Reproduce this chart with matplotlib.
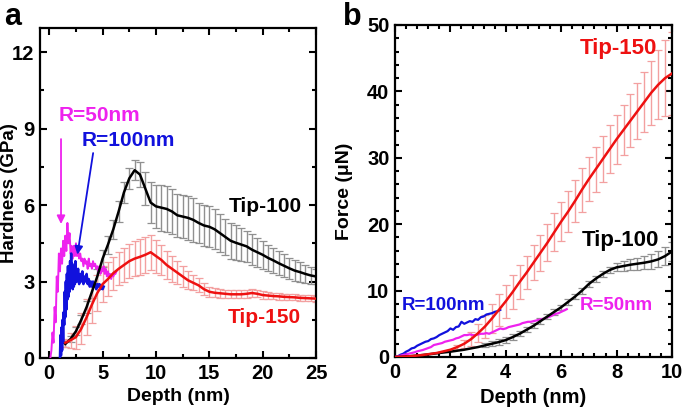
import numpy as np
import matplotlib
matplotlib.use("Agg")
import matplotlib.pyplot as plt
from matplotlib.ticker import MultipleLocator

plt.rcParams['font.family'] = ['Liberation Sans', 'DejaVu Sans']
plt.rcParams['font.weight'] = 'bold'
plt.rcParams['axes.labelweight'] = 'bold'

# ---------------- Panel a data: hardness vs depth ----------------
depth_a = np.arange(1.5, 25.01, 0.5)
hard_tip100 = [0.55, 0.75, 1.05, 1.5, 2.0, 2.6, 3.2, 3.9, 4.45, 5.05, 5.75, 6.5, 7.05, 7.37,
               7.2, 6.65, 6.1, 5.95, 5.9, 5.85, 5.75, 5.6, 5.55, 5.5, 5.42, 5.3, 5.2, 5.15,
               5.05, 4.9, 4.75, 4.6, 4.52, 4.45, 4.38, 4.25, 4.15, 4.05, 3.93, 3.83, 3.72,
               3.62, 3.52, 3.43, 3.37, 3.3, 3.24, 3.2]
err_tip100 = [0.1, 0.12, 0.15, 0.18, 0.22, 0.25, 0.3, 0.32, 0.35, 0.38, 0.4, 0.4, 0.4, 0.4,
              0.5, 0.65, 0.8, 0.85, 0.9, 0.9, 0.9, 0.85, 0.85, 0.85, 0.85, 0.8, 0.8, 0.8,
              0.78, 0.75, 0.72, 0.7, 0.68, 0.65, 0.62, 0.6, 0.57, 0.55, 0.52, 0.5, 0.47,
              0.45, 0.42, 0.4, 0.38, 0.35, 0.33, 0.3]
hard_tip150 = [0.6, 0.7, 0.82, 1.15, 1.6, 2.1, 2.55, 2.9, 3.1, 3.33, 3.5, 3.65, 3.8, 3.9,
               3.97, 4.05, 4.15, 4.0, 3.85, 3.65, 3.5, 3.35, 3.2, 3.05, 2.95, 2.85, 2.7, 2.6,
               2.56, 2.54, 2.52, 2.5, 2.5, 2.5, 2.52, 2.55, 2.52, 2.47, 2.45, 2.43, 2.42,
               2.4, 2.39, 2.38, 2.36, 2.35, 2.34, 2.33]
err_tip150 = [0.15, 0.3, 0.45, 0.6, 0.7, 0.72, 0.72, 0.7, 0.65, 0.65, 0.65, 0.65, 0.68, 0.7,
              0.7, 0.7, 0.68, 0.65, 0.6, 0.55, 0.5, 0.45, 0.4, 0.35, 0.3, 0.27, 0.23, 0.2,
              0.18, 0.17, 0.16, 0.15, 0.15, 0.15, 0.15, 0.15, 0.14, 0.14, 0.14, 0.13, 0.13,
              0.13, 0.13, 0.12, 0.12, 0.12, 0.12, 0.12]

depth_r50_a = np.round(np.arange(0.1, 6.31, 0.1), 2)
hard_r50 = [0.0, 0.3, 1.0, 0.6, 2.0, 1.4, 3.2, 2.6, 4.1, 3.4, 4.3, 3.7, 4.6, 4.0, 4.8, 4.2,
            5.3, 4.5, 4.9, 4.1, 4.4, 3.9, 4.4, 4.0, 4.5, 4.0, 4.3, 3.9, 4.1, 3.8, 3.9, 3.6,
            3.9, 3.7, 3.8, 3.5, 3.9, 3.6, 3.7, 3.5, 3.8, 3.6, 3.7, 3.5, 3.6, 3.4, 3.6, 3.3,
            3.5, 3.4, 3.6, 3.3, 3.5, 3.2, 3.4, 3.2, 3.3, 3.1, 3.3, 3.2, 3.3, 3.3, 3.4]

depth_r100_a = np.concatenate([np.arange(1.0, 2.56, 0.05), np.arange(2.6, 5.11, 0.1)])
hard_r100 = [0.0, 0.9, 0.1, 1.2, 0.3, 1.5, 0.6, 1.8, 1.3, 2.6, 1.6, 3.0, 1.9, 3.3, 2.3, 3.6,
             2.4, 3.5, 2.6, 3.8, 2.8, 4.1, 2.9, 3.7, 2.7, 3.6, 2.8, 3.5, 2.9, 3.8, 3.0, 3.4,
             3.0, 3.5, 2.9, 3.3, 3.0, 3.4, 2.9, 3.2, 3.0, 3.3, 2.9, 3.1, 2.8, 3.0, 2.8, 3.0,
             2.8, 2.9, 2.7, 2.9, 2.8, 2.9, 2.7, 2.8, 2.7, 2.8]

# ---------------- Panel b data: force vs depth ----------------
depth_b = np.arange(0, 10.01, 0.25)
force_tip150 = [0, 0.03, 0.1, 0.2, 0.3, 0.45, 0.6, 0.85, 1.1, 1.5, 2.0, 2.7, 3.6, 4.6, 5.8,
                7.1, 8.4, 9.8, 11.3, 12.7, 14.2, 15.7, 17.2, 18.8, 20.4, 21.9, 23.5, 25.2,
                26.8, 28.3, 29.8, 31.3, 32.8, 34.2, 35.6, 37.0, 38.4, 39.8, 41.0, 42.0, 42.7]
ferr_tip150 = [0, 0, 0, 0, 0, 0, 0, 0, 0, 0.3, 0.6, 1.0, 1.4, 1.8, 2.2, 2.4, 2.5, 2.5, 2.5,
               2.5, 2.6, 2.7, 2.8, 2.9, 3.0, 3.1, 3.2, 3.3, 3.3, 3.4, 3.5, 3.6, 3.7, 3.8,
               4.0, 4.2, 4.5, 4.8, 5.2, 5.7, 6.2]
force_tip100 = [0, 0.03, 0.1, 0.2, 0.3, 0.42, 0.55, 0.68, 0.8, 0.95, 1.1, 1.3, 1.5, 1.75,
                2.0, 2.25, 2.55, 3.0, 3.5, 4.1, 4.7, 5.4, 6.1, 6.8, 7.5, 8.3, 9.1, 10.0,
                11.0, 11.8, 12.5, 13.1, 13.5, 13.7, 13.9, 14.05, 14.2, 14.4, 14.7, 15.2, 15.9]
ferr_tip100 = [0, 0, 0, 0, 0, 0, 0, 0, 0, 0, 0, 0, 0, 0.3, 0.35, 0.4, 0.4, 0.4, 0.4, 0.4,
               0.4, 0.4, 0.4, 0.4, 0.4, 0.4, 0.4, 0.45, 0.45, 0.45, 0.45, 0.5, 0.6, 0.7,
               0.8, 0.9, 1.0, 1.1, 1.2, 1.3, 1.4]

depth_r100_b = np.round(np.arange(0, 3.81, 0.1), 2)
force_r100 = [0.0, 0.1, 0.35, 0.5, 0.8, 1.0, 1.3, 1.4, 1.7, 1.9, 2.1, 2.3, 2.4, 2.7, 2.8,
              3.0, 3.3, 3.5, 3.7, 3.9, 4.3, 4.1, 4.5, 4.6, 5.3, 5.0, 5.2, 5.4, 5.3, 5.7,
              5.6, 6.0, 6.1, 6.4, 6.5, 6.6, 6.8, 6.9, 7.1]
depth_r50_b = np.round(np.arange(0, 6.21, 0.1), 2)
force_r50 = [0.0, 0.1, 0.2, 0.3, 0.4, 0.5, 0.6, 0.7, 0.85, 0.95, 1.05, 1.2, 1.35, 1.5, 1.8,
             1.9, 2.0, 2.1, 2.3, 2.4, 2.5, 2.6, 2.8, 2.9, 3.1, 3.3, 3.3, 3.4, 3.3, 3.3,
             3.4, 3.5, 3.5, 3.6, 3.5, 3.7, 3.9, 4.1, 4.3, 4.2, 4.3, 4.5, 4.6, 4.7, 4.8,
             4.9, 5.1, 5.2, 5.3, 5.3, 5.4, 5.5, 5.6, 5.7, 5.8, 6.0, 6.1, 6.3, 6.5, 6.6,
             6.8, 7.0, 7.2]

RED = '#ee1111'
PINK = '#f3a0a0'
MAG = '#ee22ee'
BLUE = '#1111dd'

fig = plt.figure(figsize=(6.85, 4.09), dpi=100)
axA = fig.add_axes([40/685, 51/409, 276/685, 330/409])
axB = fig.add_axes([395/685, 52/409, 277/685, 332/409])


def errbars(ax, x, y, e, barcol, capcol):
    x = np.asarray(x); y = np.asarray(y); e = np.asarray(e)
    m = e > 0
    eb = ax.errorbar(x[m], y[m], yerr=e[m], fmt='none', ecolor=barcol, elinewidth=1.0,
                     capsize=3.2, capthick=0.9, zorder=2)
    for c in eb[1]:
        c.set_color(capcol)


# Panel a
errbars(axA, depth_a, hard_tip100, err_tip100, '#909090', '#222222')
errbars(axA, depth_a, hard_tip150, err_tip150, PINK, '#e04040')
axA.plot(depth_a, hard_tip100, color='black', lw=1.8, zorder=4)
axA.plot(depth_a, hard_tip150, color=RED, lw=1.8, zorder=4)
axA.plot(depth_r50_a, hard_r50, color=MAG, lw=1.4, zorder=3)
axA.plot(depth_r100_a, hard_r100, color=BLUE, lw=1.8, zorder=3)

axA.annotate('', xy=(1.1, 5.15), xytext=(1.1, 8.7),
             arrowprops=dict(arrowstyle='-|>', color=MAG, lw=1.3, mutation_scale=12))
axA.annotate('', xy=(2.6, 3.95), xytext=(4.15, 8.15),
             arrowprops=dict(arrowstyle='-|>', color=BLUE, lw=1.3, mutation_scale=12))
axA.text(0.9, 9.5, 'R=50nm', color=MAG, fontsize=15, fontweight='bold', va='center')
axA.text(3.05, 8.55, 'R=100nm', color=BLUE, fontsize=15, fontweight='bold', va='center')
axA.text(16.8, 5.93, 'Tip-100', color='black', fontsize=15, fontweight='bold', va='center')
axA.text(16.7, 1.57, 'Tip-150', color=RED, fontsize=15, fontweight='bold', va='center')

axA.set_xlim(-0.87, 25)
axA.set_ylim(0, 12.95)
axA.xaxis.set_major_locator(MultipleLocator(5))
axA.xaxis.set_minor_locator(MultipleLocator(2.5))
axA.yaxis.set_major_locator(MultipleLocator(3))
axA.yaxis.set_minor_locator(MultipleLocator(1.5))
axA.set_xlabel('Depth (nm)', fontsize=14, fontweight='bold')
axA.set_ylabel('Hardness (GPa)', fontsize=13.5, fontweight='bold')
axA.xaxis.set_label_coords(0.5, -0.09)
axA.yaxis.set_label_coords(-0.08, 0.5)

# Panel b
errbars(axB, depth_b, force_tip150, ferr_tip150, PINK, '#e04040')
errbars(axB, depth_b, force_tip100, ferr_tip100, '#909090', '#222222')
axB.plot(depth_r100_b, force_r100, color=BLUE, lw=1.6, zorder=3)
axB.plot(depth_r50_b, force_r50, color=MAG, lw=1.6, zorder=3)
axB.plot(depth_b, force_tip100, color='black', lw=1.8, zorder=4)
axB.plot(depth_b, force_tip150, color=RED, lw=1.8, zorder=4)

axB.text(6.68, 46.5, 'Tip-150', color=RED, fontsize=16, fontweight='bold', va='center')
axB.text(6.74, 17.6, 'Tip-100', color='black', fontsize=16, fontweight='bold', va='center')
axB.text(0.24, 7.8, 'R=100nm', color=BLUE, fontsize=13.5, fontweight='bold', va='center')
axB.text(6.68, 7.8, 'R=50nm', color=MAG, fontsize=13.5, fontweight='bold', va='center')

axB.set_xlim(0, 10)
axB.set_ylim(0, 50)
axB.xaxis.set_major_locator(MultipleLocator(2))
axB.xaxis.set_minor_locator(MultipleLocator(0.4))
axB.yaxis.set_major_locator(MultipleLocator(10))
axB.yaxis.set_minor_locator(MultipleLocator(2))
axB.set_xlabel('Depth (nm)', fontsize=14.5, fontweight='bold')
axB.set_ylabel('Force (μN)', fontsize=14, fontweight='bold')
axB.xaxis.set_label_coords(0.5, -0.093)
axB.yaxis.set_label_coords(-0.152, 0.5)

for ax in (axA, axB):
    for s in ax.spines.values():
        s.set_linewidth(1.6)
    ax.tick_params(which='both', direction='in', top=True, right=True, width=1.5)
    ax.tick_params(which='major', length=5, labelsize=14.5, pad=4)
    ax.tick_params(which='minor', length=3)
    for lab in ax.get_xticklabels() + ax.get_yticklabels():
        lab.set_fontweight('bold')

fig.text(4/685, 1 - 17/409, 'a', fontsize=22, fontweight='bold', va='center')
fig.text(343/685, 1 - 17/409, 'b', fontsize=22, fontweight='bold', va='center')

fig.savefig('out.png', dpi=100)
